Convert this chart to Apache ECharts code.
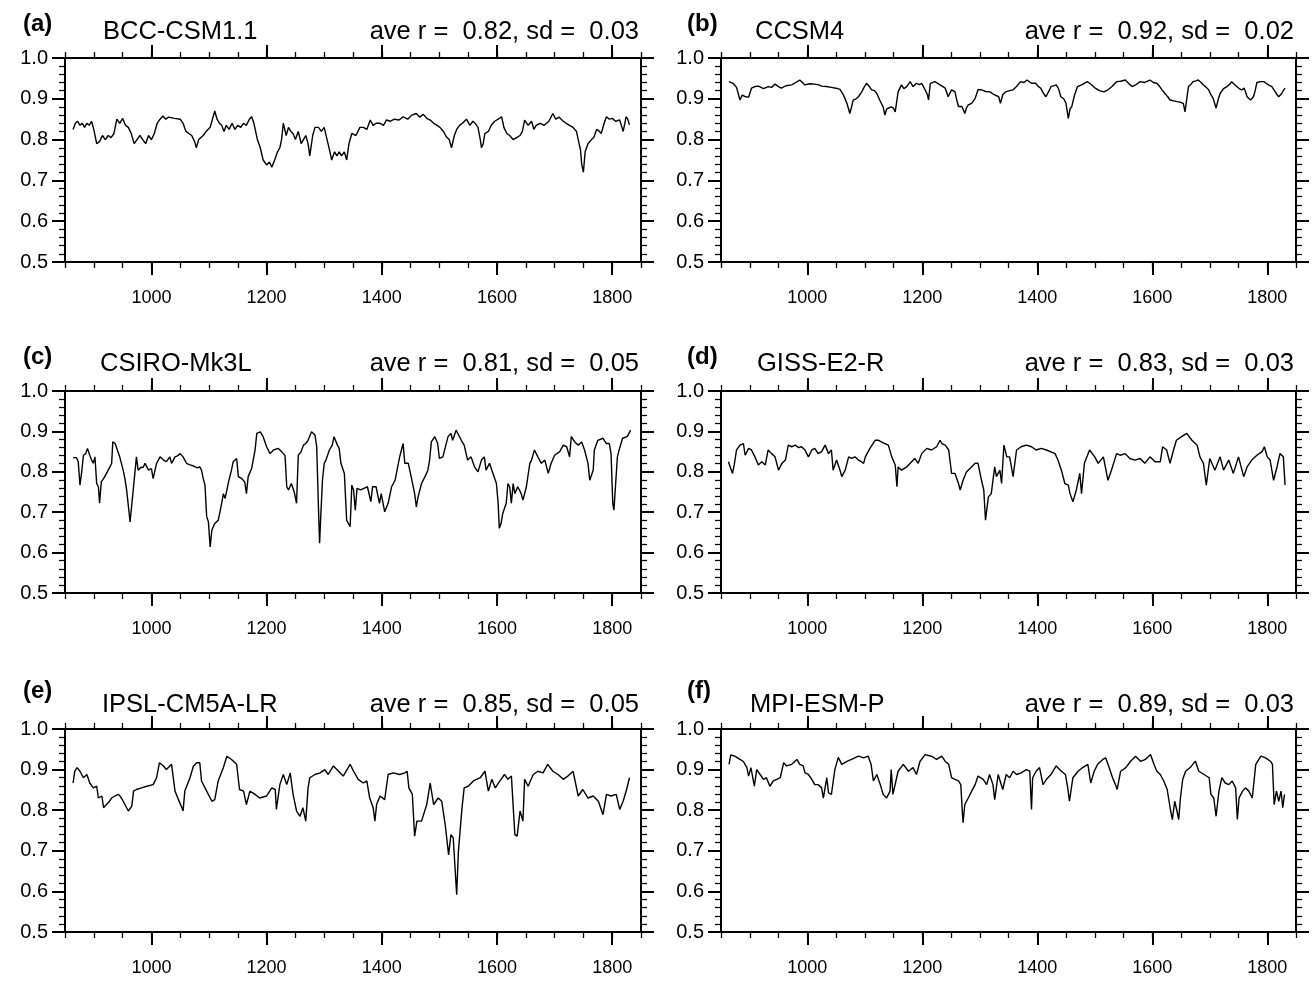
<!DOCTYPE html>
<html>
<head>
<meta charset="utf-8">
<script src="https://cdn.jsdelivr.net/npm/echarts@6/dist/echarts.min.js"></script>
<style>
  html, body { margin: 0; padding: 0; background: #fff; }
  #chart { width: 1312px; height: 981px; }
</style>
</head>
<body>
<div id="chart"></div>
<script>
// running correlation r per model, [year, r]
const bccCsm11 = [[864,0.825],[868,0.84],[872,0.845],[876,0.835],[880,0.84],[884,0.83],[888,0.84],[892,0.835],[896,0.845],[900,0.825],[905,0.79],[910,0.795],[915,0.81],[920,0.80],[925,0.81],[930,0.805],[935,0.815],[940,0.85],[945,0.84],[950,0.852],[955,0.835],[960,0.83],[965,0.815],[970,0.79],[975,0.80],[980,0.81],[985,0.80],[990,0.79],[995,0.81],[1000,0.80],[1005,0.815],[1010,0.84],[1015,0.85],[1020,0.858],[1025,0.85],[1030,0.855],[1040,0.852],[1050,0.85],[1055,0.84],[1060,0.82],[1065,0.815],[1070,0.81],[1075,0.795],[1078,0.78],[1082,0.80],[1090,0.81],[1095,0.82],[1102,0.83],[1106,0.85],[1110,0.87],[1114,0.85],[1118,0.84],[1122,0.835],[1126,0.82],[1130,0.835],[1135,0.825],[1140,0.84],[1145,0.825],[1150,0.835],[1155,0.83],[1160,0.84],[1165,0.835],[1170,0.85],[1174,0.856],[1178,0.84],[1184,0.80],[1189,0.78],[1194,0.75],[1200,0.738],[1205,0.745],[1209,0.732],[1214,0.75],[1219,0.77],[1223,0.78],[1226,0.80],[1229,0.84],[1234,0.81],[1238,0.83],[1242,0.82],[1246,0.815],[1250,0.80],[1255,0.82],[1260,0.79],[1264,0.80],[1268,0.81],[1272,0.79],[1275,0.76],[1280,0.81],[1284,0.83],[1290,0.83],[1295,0.82],[1300,0.83],[1305,0.80],[1310,0.77],[1313,0.75],[1318,0.77],[1322,0.76],[1326,0.77],[1330,0.76],[1335,0.77],[1339,0.75],[1343,0.79],[1348,0.815],[1355,0.81],[1362,0.83],[1368,0.83],[1374,0.825],[1380,0.848],[1385,0.835],[1390,0.84],[1397,0.84],[1403,0.835],[1408,0.848],[1415,0.845],[1422,0.85],[1430,0.848],[1437,0.856],[1445,0.85],[1452,0.86],[1460,0.864],[1466,0.855],[1472,0.862],[1478,0.852],[1484,0.848],[1490,0.84],[1496,0.835],[1501,0.83],[1507,0.82],[1512,0.807],[1517,0.80],[1521,0.78],[1526,0.81],[1530,0.825],[1535,0.835],[1540,0.84],[1547,0.85],[1553,0.835],[1558,0.845],[1562,0.84],[1567,0.83],[1571,0.80],[1573,0.78],[1576,0.79],[1579,0.815],[1585,0.82],[1590,0.835],[1596,0.845],[1602,0.85],[1608,0.856],[1612,0.83],[1617,0.815],[1622,0.81],[1628,0.80],[1634,0.805],[1640,0.81],[1644,0.82],[1648,0.848],[1654,0.835],[1660,0.845],[1664,0.825],[1668,0.835],[1675,0.84],[1682,0.835],[1690,0.845],[1697,0.864],[1702,0.85],[1708,0.855],[1715,0.845],[1720,0.84],[1726,0.835],[1732,0.83],[1738,0.82],[1741,0.80],[1745,0.775],[1747,0.74],[1750,0.72],[1753,0.77],[1758,0.79],[1764,0.80],[1768,0.805],[1773,0.825],[1778,0.82],[1781,0.815],[1786,0.84],[1790,0.856],[1795,0.85],[1800,0.852],[1806,0.845],[1813,0.848],[1817,0.83],[1819,0.82],[1822,0.84],[1824,0.856],[1827,0.85],[1830,0.836]];

const ccsm4 = [[864,0.942],[871,0.938],[877,0.928],[883,0.897],[887,0.909],[893,0.905],[898,0.904],[903,0.926],[909,0.93],[915,0.931],[924,0.925],[932,0.93],[938,0.928],[944,0.936],[950,0.93],[955,0.926],[963,0.932],[973,0.934],[980,0.94],[987,0.946],[996,0.934],[1004,0.937],[1013,0.936],[1020,0.934],[1025,0.931],[1033,0.93],[1042,0.928],[1050,0.926],[1057,0.923],[1063,0.909],[1069,0.889],[1074,0.864],[1077,0.88],[1080,0.897],[1085,0.9],[1089,0.905],[1094,0.915],[1098,0.926],[1103,0.938],[1108,0.93],[1112,0.922],[1117,0.92],[1121,0.913],[1126,0.897],[1132,0.88],[1135,0.86],[1138,0.875],[1141,0.872],[1146,0.88],[1150,0.877],[1153,0.868],[1158,0.917],[1164,0.934],[1168,0.925],[1173,0.93],[1179,0.942],[1184,0.93],[1190,0.938],[1195,0.935],[1199,0.938],[1205,0.922],[1209,0.91],[1211,0.897],[1214,0.938],[1222,0.942],[1231,0.934],[1240,0.926],[1245,0.905],[1251,0.922],[1257,0.917],[1260,0.897],[1263,0.881],[1266,0.885],[1269,0.881],[1274,0.864],[1277,0.878],[1280,0.885],[1286,0.889],[1292,0.901],[1297,0.922],[1303,0.922],[1310,0.918],[1318,0.917],[1325,0.91],[1333,0.905],[1336,0.889],[1340,0.91],[1345,0.917],[1352,0.92],[1358,0.922],[1364,0.93],[1371,0.942],[1377,0.94],[1382,0.946],[1390,0.938],[1397,0.938],[1402,0.93],[1406,0.926],[1410,0.915],[1415,0.905],[1420,0.918],[1424,0.93],[1433,0.934],[1437,0.925],[1441,0.905],[1446,0.9],[1450,0.889],[1454,0.852],[1457,0.875],[1460,0.881],[1465,0.91],[1470,0.93],[1478,0.935],[1487,0.942],[1494,0.935],[1501,0.926],[1508,0.92],[1516,0.917],[1523,0.922],[1530,0.93],[1538,0.942],[1545,0.943],[1553,0.946],[1560,0.936],[1565,0.93],[1572,0.935],[1579,0.942],[1587,0.94],[1596,0.946],[1602,0.94],[1608,0.938],[1613,0.93],[1617,0.922],[1622,0.913],[1627,0.905],[1631,0.897],[1637,0.895],[1643,0.893],[1648,0.892],[1654,0.889],[1657,0.868],[1660,0.9],[1663,0.93],[1667,0.935],[1671,0.942],[1676,0.944],[1680,0.946],[1685,0.94],[1689,0.934],[1694,0.928],[1698,0.922],[1702,0.91],[1706,0.901],[1711,0.877],[1715,0.9],[1718,0.913],[1724,0.925],[1730,0.93],[1735,0.936],[1738,0.942],[1743,0.935],[1747,0.93],[1752,0.924],[1756,0.922],[1760,0.926],[1765,0.905],[1771,0.897],[1776,0.905],[1779,0.92],[1782,0.94],[1788,0.942],[1794,0.942],[1798,0.938],[1802,0.934],[1808,0.93],[1814,0.917],[1817,0.91],[1820,0.905],[1823,0.908],[1825,0.913],[1828,0.92],[1831,0.926]];

const csiroMk3l = [[864,0.835],[870,0.835],[873,0.825],[876,0.767],[879,0.80],[882,0.841],[886,0.845],[889,0.858],[893,0.841],[896,0.83],[899,0.821],[902,0.837],[905,0.771],[908,0.763],[910,0.722],[913,0.775],[917,0.783],[922,0.796],[928,0.812],[931,0.821],[933,0.874],[937,0.87],[940,0.866],[945,0.837],[951,0.804],[954,0.783],[957,0.755],[960,0.755],[963,0.676],[966,0.68],[969,0.763],[972,0.767],[974,0.837],[977,0.804],[981,0.81],[986,0.812],[989,0.821],[995,0.804],[1000,0.808],[1003,0.783],[1009,0.821],[1015,0.837],[1021,0.829],[1026,0.825],[1032,0.837],[1035,0.821],[1041,0.837],[1046,0.84],[1050,0.845],[1055,0.837],[1061,0.821],[1067,0.817],[1072,0.815],[1076,0.812],[1080,0.81],[1084,0.812],[1087,0.804],[1090,0.783],[1093,0.767],[1096,0.689],[1099,0.676],[1102,0.614],[1105,0.656],[1110,0.672],[1116,0.68],[1122,0.722],[1125,0.746],[1128,0.734],[1134,0.775],[1139,0.804],[1142,0.825],[1148,0.833],[1151,0.788],[1157,0.783],[1162,0.775],[1165,0.746],[1168,0.788],[1174,0.808],[1177,0.804],[1180,0.854],[1183,0.895],[1189,0.899],[1194,0.887],[1200,0.862],[1206,0.845],[1212,0.854],[1220,0.858],[1226,0.85],[1229,0.854],[1232,0.84],[1235,0.763],[1238,0.755],[1243,0.771],[1248,0.75],[1252,0.722],[1255,0.841],[1260,0.85],[1264,0.866],[1268,0.87],[1272,0.878],[1278,0.899],[1284,0.891],[1287,0.862],[1290,0.713],[1292,0.623],[1294,0.689],[1297,0.779],[1300,0.821],[1303,0.829],[1309,0.854],[1314,0.866],[1317,0.887],[1323,0.866],[1326,0.858],[1329,0.821],[1332,0.817],[1335,0.796],[1339,0.68],[1342,0.676],[1345,0.664],[1348,0.767],[1351,0.755],[1354,0.705],[1357,0.759],[1363,0.755],[1369,0.759],[1375,0.763],[1381,0.726],[1384,0.763],[1390,0.763],[1396,0.722],[1399,0.746],[1405,0.701],[1411,0.722],[1417,0.763],[1423,0.779],[1431,0.837],[1437,0.87],[1440,0.821],[1446,0.821],[1451,0.788],[1457,0.746],[1460,0.713],[1463,0.738],[1469,0.771],[1475,0.788],[1480,0.804],[1483,0.829],[1486,0.874],[1492,0.887],[1497,0.87],[1500,0.833],[1506,0.837],[1515,0.887],[1520,0.895],[1523,0.878],[1529,0.903],[1532,0.903],[1538,0.878],[1543,0.866],[1549,0.829],[1555,0.837],[1561,0.812],[1567,0.8],[1573,0.829],[1578,0.837],[1581,0.804],[1587,0.821],[1593,0.796],[1599,0.771],[1602,0.722],[1604,0.66],[1607,0.672],[1610,0.697],[1616,0.722],[1619,0.771],[1622,0.763],[1625,0.722],[1628,0.771],[1631,0.746],[1636,0.763],[1642,0.746],[1645,0.73],[1651,0.763],[1657,0.821],[1660,0.829],[1665,0.854],[1671,0.837],[1677,0.821],[1683,0.829],[1689,0.796],[1694,0.821],[1700,0.841],[1709,0.85],[1715,0.866],[1721,0.862],[1726,0.837],[1729,0.887],[1735,0.874],[1741,0.866],[1747,0.874],[1752,0.854],[1758,0.821],[1761,0.779],[1764,0.775],[1767,0.804],[1769,0.854],[1775,0.878],[1784,0.883],[1790,0.87],[1795,0.87],[1798,0.845],[1801,0.722],[1803,0.705],[1806,0.709],[1809,0.837],[1812,0.854],[1818,0.883],[1826,0.887],[1829,0.883],[1832,0.903]];

const gissE2R = [[863,0.825],[866,0.812],[870,0.796],[873,0.817],[877,0.854],[883,0.866],[889,0.87],[892,0.841],[898,0.858],[903,0.854],[909,0.837],[915,0.817],[921,0.825],[927,0.817],[932,0.854],[938,0.845],[944,0.837],[950,0.804],[956,0.821],[962,0.829],[967,0.866],[973,0.862],[979,0.866],[985,0.86],[990,0.862],[996,0.854],[1002,0.837],[1008,0.854],[1013,0.858],[1019,0.845],[1025,0.85],[1031,0.866],[1037,0.845],[1042,0.854],[1045,0.804],[1051,0.829],[1057,0.804],[1060,0.788],[1066,0.804],[1072,0.837],[1077,0.833],[1083,0.837],[1089,0.829],[1094,0.825],[1098,0.821],[1101,0.837],[1109,0.858],[1118,0.878],[1124,0.878],[1129,0.874],[1135,0.87],[1141,0.866],[1147,0.837],[1153,0.817],[1156,0.763],[1158,0.812],[1164,0.804],[1173,0.812],[1179,0.821],[1187,0.833],[1193,0.821],[1199,0.845],[1208,0.858],[1216,0.854],[1225,0.862],[1231,0.878],[1234,0.87],[1240,0.866],[1246,0.854],[1251,0.796],[1257,0.796],[1263,0.771],[1266,0.755],[1271,0.779],[1277,0.8],[1283,0.808],[1292,0.821],[1297,0.821],[1300,0.80],[1303,0.779],[1307,0.755],[1310,0.68],[1315,0.738],[1320,0.746],[1326,0.812],[1329,0.788],[1335,0.804],[1338,0.771],[1342,0.866],[1347,0.837],[1352,0.837],[1358,0.788],[1364,0.854],[1372,0.862],[1381,0.866],[1390,0.862],[1398,0.854],[1407,0.858],[1416,0.854],[1431,0.845],[1436,0.829],[1442,0.804],[1448,0.771],[1454,0.767],[1457,0.746],[1462,0.726],[1468,0.755],[1474,0.796],[1477,0.746],[1482,0.821],[1491,0.854],[1500,0.837],[1506,0.821],[1515,0.837],[1523,0.779],[1529,0.804],[1538,0.845],[1544,0.841],[1553,0.845],[1561,0.833],[1570,0.829],[1579,0.833],[1587,0.821],[1596,0.837],[1605,0.825],[1614,0.825],[1618,0.862],[1625,0.854],[1631,0.821],[1637,0.854],[1642,0.878],[1651,0.887],[1660,0.895],[1669,0.878],[1678,0.866],[1683,0.837],[1689,0.821],[1694,0.767],[1700,0.833],[1709,0.804],[1718,0.837],[1724,0.804],[1733,0.829],[1741,0.796],[1750,0.837],[1759,0.788],[1765,0.812],[1773,0.829],[1782,0.841],[1791,0.85],[1795,0.862],[1800,0.837],[1805,0.829],[1811,0.779],[1817,0.812],[1822,0.845],[1828,0.837],[1831,0.767]];

const ipslCm5aLr = [[864,0.867],[867,0.896],[871,0.905],[876,0.896],[882,0.88],[888,0.888],[893,0.867],[899,0.855],[905,0.859],[908,0.83],[914,0.835],[917,0.806],[922,0.814],[926,0.82],[931,0.83],[937,0.835],[943,0.839],[948,0.83],[954,0.814],[960,0.798],[966,0.81],[969,0.847],[974,0.851],[983,0.855],[992,0.859],[1003,0.863],[1009,0.88],[1014,0.917],[1021,0.909],[1026,0.9],[1035,0.913],[1041,0.847],[1047,0.826],[1053,0.806],[1055,0.798],[1058,0.847],[1067,0.88],[1073,0.909],[1079,0.917],[1084,0.917],[1087,0.872],[1096,0.847],[1105,0.822],[1110,0.826],[1116,0.872],[1125,0.905],[1131,0.933],[1139,0.925],[1148,0.913],[1153,0.851],[1160,0.847],[1165,0.814],[1171,0.847],[1180,0.839],[1188,0.83],[1200,0.835],[1209,0.855],[1215,0.851],[1217,0.802],[1223,0.863],[1229,0.888],[1235,0.863],[1241,0.892],[1246,0.839],[1252,0.798],[1258,0.785],[1263,0.806],[1268,0.773],[1272,0.855],[1275,0.88],[1284,0.888],[1293,0.892],[1301,0.9],[1307,0.888],[1316,0.909],[1325,0.896],[1333,0.884],[1345,0.913],[1351,0.896],[1359,0.876],[1368,0.867],[1374,0.872],[1379,0.83],[1385,0.806],[1388,0.773],[1391,0.814],[1397,0.835],[1405,0.826],[1411,0.888],[1420,0.892],[1431,0.888],[1440,0.892],[1444,0.896],[1447,0.855],[1453,0.839],[1457,0.736],[1461,0.773],[1469,0.773],[1478,0.814],[1484,0.867],[1490,0.814],[1498,0.83],[1504,0.822],[1510,0.765],[1516,0.69],[1520,0.74],[1524,0.732],[1527,0.662],[1530,0.592],[1533,0.699],[1539,0.802],[1543,0.855],[1550,0.859],[1559,0.872],[1571,0.88],[1579,0.896],[1585,0.847],[1591,0.876],[1597,0.855],[1605,0.872],[1613,0.888],[1619,0.876],[1625,0.884],[1631,0.74],[1635,0.736],[1640,0.798],[1645,0.773],[1648,0.876],[1654,0.859],[1663,0.888],[1671,0.896],[1680,0.892],[1688,0.913],[1697,0.896],[1706,0.888],[1715,0.876],[1723,0.884],[1732,0.896],[1741,0.835],[1749,0.851],[1758,0.83],[1767,0.835],[1776,0.822],[1784,0.789],[1790,0.839],[1798,0.835],[1807,0.839],[1813,0.802],[1819,0.822],[1825,0.851],[1830,0.88]];

const mpiEsmP = [[864,0.913],[867,0.936],[874,0.933],[883,0.925],[889,0.92],[895,0.905],[898,0.884],[902,0.905],[908,0.859],[912,0.9],[918,0.888],[924,0.876],[929,0.88],[935,0.859],[941,0.872],[947,0.876],[953,0.88],[959,0.917],[964,0.909],[973,0.913],[982,0.925],[987,0.913],[993,0.909],[996,0.892],[1002,0.888],[1008,0.876],[1013,0.863],[1019,0.863],[1025,0.855],[1028,0.83],[1034,0.88],[1037,0.843],[1042,0.839],[1048,0.9],[1054,0.93],[1060,0.913],[1069,0.92],[1077,0.925],[1089,0.933],[1098,0.929],[1106,0.933],[1111,0.913],[1115,0.872],[1121,0.888],[1127,0.863],[1132,0.839],[1138,0.83],[1144,0.847],[1146,0.9],[1149,0.839],[1158,0.896],[1167,0.913],[1176,0.896],[1184,0.905],[1190,0.888],[1196,0.92],[1205,0.937],[1216,0.933],[1225,0.925],[1234,0.933],[1240,0.92],[1246,0.913],[1251,0.88],[1257,0.876],[1263,0.872],[1267,0.863],[1270,0.789],[1271,0.769],[1274,0.814],[1280,0.83],[1286,0.847],[1292,0.863],[1297,0.884],[1306,0.876],[1312,0.863],[1317,0.888],[1323,0.863],[1326,0.826],[1332,0.888],[1340,0.851],[1346,0.888],[1352,0.88],[1358,0.896],[1364,0.888],[1372,0.892],[1381,0.9],[1387,0.896],[1390,0.802],[1392,0.88],[1398,0.896],[1404,0.905],[1410,0.863],[1416,0.876],[1424,0.888],[1433,0.909],[1442,0.896],[1449,0.888],[1453,0.855],[1456,0.822],[1462,0.88],[1471,0.896],[1479,0.905],[1488,0.913],[1493,0.867],[1499,0.896],[1505,0.913],[1514,0.925],[1519,0.929],[1525,0.905],[1531,0.88],[1536,0.863],[1539,0.851],[1545,0.896],[1554,0.905],[1562,0.92],[1571,0.933],[1580,0.92],[1588,0.925],[1597,0.937],[1603,0.913],[1608,0.896],[1614,0.888],[1620,0.872],[1626,0.851],[1632,0.798],[1635,0.777],[1639,0.822],[1643,0.798],[1646,0.777],[1649,0.83],[1653,0.876],[1658,0.896],[1666,0.905],[1675,0.921],[1681,0.896],[1690,0.888],[1699,0.88],[1702,0.839],[1707,0.83],[1711,0.785],[1716,0.847],[1721,0.88],[1727,0.867],[1733,0.863],[1739,0.872],[1745,0.855],[1748,0.777],[1751,0.83],[1757,0.847],[1762,0.855],[1768,0.847],[1774,0.83],[1780,0.913],[1789,0.933],[1797,0.929],[1806,0.92],[1809,0.913],[1812,0.814],[1816,0.847],[1820,0.822],[1824,0.847],[1827,0.806],[1830,0.839]];

const panelTags = ['(a)', '(b)', '(c)', '(d)', '(e)', '(f)'];
const modelNames = ['BCC-CSM1.1', 'CCSM4', 'CSIRO-Mk3L', 'GISS-E2-R', 'IPSL-CM5A-LR', 'MPI-ESM-P'];
const aveR = ['0.82', '0.92', '0.81', '0.83', '0.85', '0.89'];
const sdR = ['0.03', '0.02', '0.05', '0.03', '0.05', '0.03'];
const seriesData = [bccCsm11, ccsm4, csiroMk3l, gissE2R, ipslCm5aLr, mpiEsmP];
const xLabelYears = [1000, 1200, 1400, 1600, 1800];

// layout (px)
const cols = [{ left: 65, width: 576 }, { left: 721, width: 575 }];
const rows = [{ top: 58, height: 204 }, { top: 391, height: 202 }, { top: 729, height: 203 }];
const tagX = [23, 687];
const nameX = [103, 755, 100, 757, 102, 750];
const tagY = [24, 357, 691];
const headY = [32, 364, 705];

const FONT = '"Liberation Sans", Arial, Helvetica, sans-serif';
const black = '#000';

const grid = [], xAxis = [], yAxis = [], series = [], graphic = [];

seriesData.forEach(function (data, i) {
  const c = i % 2, r = Math.floor(i / 2);
  grid.push({
    left: cols[c].left, width: cols[c].width,
    top: rows[r].top, height: rows[r].height,
    outerBoundsMode: 'none'
  });

  const xBase = { gridIndex: i, type: 'value', min: 850, max: 1850, splitLine: { show: false } };
  // minor ticks every 50 yr, major ticks + labels every 200 yr, bottom and top
  ['bottom', 'top'].forEach(function (pos) {
    xAxis.push(Object.assign({}, xBase, {
      position: pos, interval: 50,
      axisLine: { show: true, onZero: false, lineStyle: { color: black, width: 2 } },
      axisTick: { show: true, inside: false, length: 6, lineStyle: { color: black, width: 1.3 } },
      axisLabel: { show: false }
    }));
    xAxis.push(Object.assign({}, xBase, {
      position: pos,
      axisLine: { show: false, onZero: false },
      axisTick: { show: true, inside: false, length: 13, customValues: xLabelYears, lineStyle: { color: black, width: 2 } },
      axisLabel: {
        show: pos === 'bottom', customValues: xLabelYears, margin: 27,
        color: black, fontSize: 18, fontFamily: FONT,
        formatter: function (v) { return String(v); }
      }
    }));
  });

  ['left', 'right'].forEach(function (pos) {
    yAxis.push({
      gridIndex: i, type: 'value', position: pos,
      min: 0.5, max: 1.0, interval: 0.1,
      axisLine: { show: true, onZero: false, lineStyle: { color: black, width: 2 } },
      axisTick: { show: true, inside: false, length: 13, lineStyle: { color: black, width: 2 } },
      minorTick: { show: true, splitNumber: 5, length: 6, lineStyle: { color: black, width: 1.3 } },
      splitLine: { show: false },
      minorSplitLine: { show: false },
      axisLabel: {
        show: pos === 'left', margin: 17,
        color: black, fontSize: 20, fontFamily: FONT,
        formatter: function (v) { return v.toFixed(1); }
      }
    });
  });

  series.push({
    type: 'line',
    xAxisIndex: i * 4, yAxisIndex: i * 2,
    data: data,
    showSymbol: false, symbol: 'none',
    lineStyle: { color: black, width: 1.4 },
    clip: true
  });

  graphic.push({
    type: 'text', x: tagX[c], y: tagY[r],
    style: { text: panelTags[i], fill: black, font: 'bold 24px ' + FONT, textAlign: 'left', textVerticalAlign: 'middle' }
  });
  graphic.push({
    type: 'text', x: nameX[i], y: headY[r],
    style: { text: modelNames[i], fill: black, font: '25.5px ' + FONT, textAlign: 'left', textVerticalAlign: 'middle' }
  });
  graphic.push({
    type: 'text', x: cols[c].left + cols[c].width - 2, y: headY[r],
    style: { text: 'ave r =  ' + aveR[i] + ', sd =  ' + sdR[i], fill: black, font: '25.5px ' + FONT, textAlign: 'right', textVerticalAlign: 'middle' }
  });
});

const chart = echarts.init(document.getElementById('chart'), null, { renderer: 'canvas' });
chart.setOption({
  animation: false,
  backgroundColor: '#fff',
  grid: grid,
  xAxis: xAxis,
  yAxis: yAxis,
  series: series,
  graphic: graphic
});
</script>
</body>
</html>
